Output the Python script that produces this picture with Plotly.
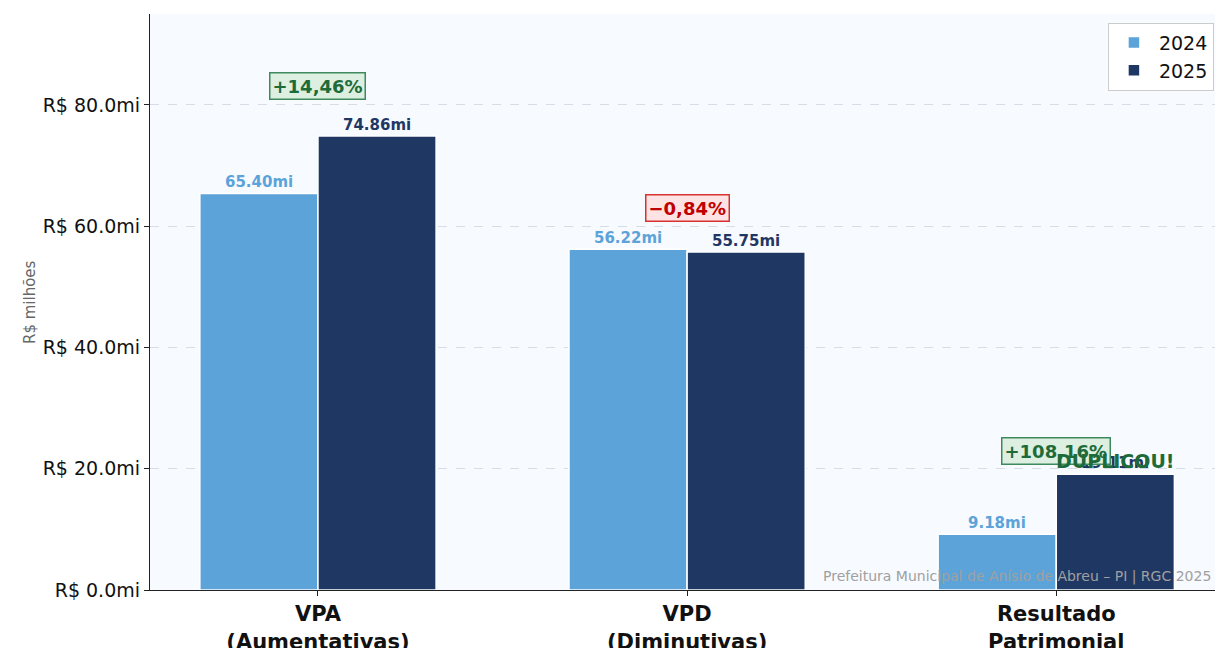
import plotly.graph_objects as go

# Variações patrimoniais (R$ milhões)
categorias = ["VPA<br>(Aumentativas)", "VPD<br>(Diminutivas)", "Resultado<br>Patrimonial"]
valores_2024 = [65.40, 56.22, 9.18]
valores_2025 = [74.86, 55.75, 19.11]
variacoes = ["+14,46%", "\u22120,84%", "+108,16%"]
positivo = [True, False, True]
y_ticks = [0, 20, 40, 60, 80]

COR_2024 = "#5BA3D9"
COR_2025 = "#1F3763"
FONTE = "DejaVu Sans"

fig = go.Figure()
fig.add_trace(go.Bar(
    name="2024", x=categorias, y=valores_2024,
    marker=dict(color=COR_2024, line=dict(color="white", width=1.5)),
))
fig.add_trace(go.Bar(
    name="2025", x=categorias, y=valores_2025,
    marker=dict(color=COR_2025, line=dict(color="white", width=1.5)),
))

anotacoes = []
OFFSET = 0.16
# Rótulos de valor acima das barras
for i, (a, b) in enumerate(zip(valores_2024, valores_2025)):
    for v, dx, cor in ((a, -OFFSET, COR_2024), (b, OFFSET, COR_2025)):
        anotacoes.append(dict(
            x=i + dx, y=v, xref="x", yref="y", text=f"<b>{v:.2f}mi</b>",
            showarrow=False, yanchor="bottom", yshift=0,
            font=dict(family=FONTE, size=15, color=cor),
        ))

# Caixas de variação percentual
for i, (a, b) in enumerate(zip(valores_2024, valores_2025)):
    if positivo[i]:
        txt, bg, borda = "#1E6B3A", "#DCEFE0", "#3E8A5C"
    else:
        txt, bg, borda = "#C00000", "#FDE3E3", "#D93030"
    anotacoes.append(dict(
        x=i, y=max(a, b) * 1.08, xref="x", yref="y", text=f"<b>{variacoes[i]}</b>",
        showarrow=False, yanchor="bottom",
        font=dict(family=FONTE, size=18, color=txt),
        bgcolor=bg, bordercolor=borda, borderwidth=1.5, borderpad=2,
    ))

# Destaque do resultado patrimonial
anotacoes.append(dict(
    x=2 + OFFSET, y=valores_2025[2] * 1.04, xref="x", yref="y", text="<b>DUPLICOU!</b>",
    showarrow=False, yanchor="bottom", yshift=-4,
    font=dict(family=FONTE, size=19, color="#1E6B3A"),
))

# Título do eixo Y
anotacoes.append(dict(
    x=0, y=0.5, xref="paper", yref="paper", xshift=-131, text="R$ milhões",
    textangle=-90, showarrow=False,
    font=dict(family=FONTE, size=15, color="#666666"),
))

# Rodapé
anotacoes.append(dict(
    x=1, y=0, xref="paper", yref="paper", xanchor="right", yanchor="bottom",
    xshift=-2, yshift=3,
    text="Prefeitura Municipal de Anísio de Abreu – PI | RGC 2025",
    showarrow=False, font=dict(family=FONTE, size=14, color="#A0A0A0"),
))

fig.update_layout(
    width=1216, height=648,
    margin=dict(l=150, r=1, t=14, b=58),
    paper_bgcolor="white", plot_bgcolor="#F7FAFF",
    barmode="group", bargap=0.36, bargroupgap=0,
    font=dict(family=FONTE, size=15, color="#111111"),
    annotations=anotacoes,
    legend=dict(
        x=0.999, y=0.985, xanchor="right", yanchor="top",
        bgcolor="rgba(255,255,255,0.9)", bordercolor="#CCCCCC", borderwidth=1,
        font=dict(family=FONTE, size=19, color="#111111"),
        itemwidth=40,
    ),
    showlegend=True,
)
fig.update_xaxes(
    range=[-0.455, 2.43], showline=True, linecolor="#222222", linewidth=1.3,
    ticks="outside", ticklen=5, tickcolor="#222222",
    tickfont=dict(family=FONTE, size=21, color="#111111"),
    tickvals=categorias, ticktext=[f"<b>{c}</b>" for c in categorias],
    showgrid=False, automargin=False,
)
fig.update_yaxes(
    range=[0, 95.0], tickvals=y_ticks, ticktext=[f"R$ {t:.1f}mi" for t in y_ticks],
    showline=True, linecolor="#222222", linewidth=1.3,
    ticks="outside", ticklen=5, tickcolor="#222222",
    tickfont=dict(family=FONTE, size=19, color="#111111"),
    showgrid=True, gridcolor="#D5DDE8", griddash="dash", gridwidth=1,
    zeroline=False, automargin=False,
)

fig.write_html("out.html")
